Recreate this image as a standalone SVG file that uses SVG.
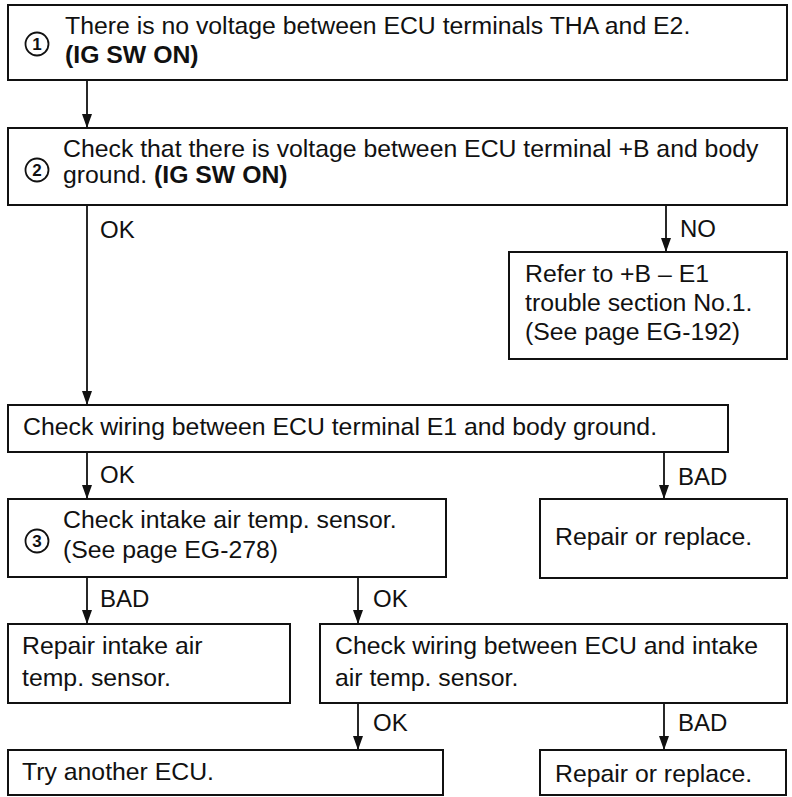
<svg xmlns="http://www.w3.org/2000/svg" width="792" height="797" viewBox="0 0 792 797">
<style>
.box{fill:#fff;stroke:#111;stroke-width:2}
.t{font-family:"Liberation Sans",Arial,sans-serif;font-size:24.8px;fill:#111}
.b{font-weight:bold}
.lbl{font-family:"Liberation Sans",Arial,sans-serif;font-size:24px;fill:#111}
.num{font-family:"Liberation Sans",Arial,sans-serif;font-size:17px;font-weight:bold;fill:#111;text-anchor:middle}
.circ{fill:none;stroke:#111;stroke-width:1.8}
.con{stroke:#111;stroke-width:1.8;fill:none;marker-end:url(#ah)}
</style>
<defs>
<marker id="ah" viewBox="0 0 14 10" refX="14" refY="5" markerWidth="14" markerHeight="10" markerUnits="userSpaceOnUse" orient="auto">
<path d="M0,0 L14,5 L0,10 Z" fill="#111"/>
</marker>
</defs>
<rect width="792" height="797" fill="#fff"/>
<g id="connectors">
<line class="con" x1="87" y1="80" x2="87" y2="128"/>
<line class="con" x1="87" y1="205" x2="87" y2="405"/>
<line class="con" x1="666" y1="205" x2="666" y2="252"/>
<line class="con" x1="87" y1="452" x2="87" y2="499"/>
<line class="con" x1="664" y1="452" x2="664" y2="499"/>
<line class="con" x1="87" y1="577" x2="87" y2="624"/>
<line class="con" x1="358" y1="577" x2="358" y2="624"/>
<line class="con" x1="358" y1="703" x2="358" y2="750"/>
<line class="con" x1="664" y1="703" x2="664" y2="750"/>
<text class="lbl" x="100" y="238">OK</text>
<text class="lbl" x="680" y="237">NO</text>
<text class="lbl" x="100" y="483">OK</text>
<text class="lbl" x="678" y="485">BAD</text>
<text class="lbl" x="100" y="607">BAD</text>
<text class="lbl" x="373" y="607">OK</text>
<text class="lbl" x="373" y="731">OK</text>
<text class="lbl" x="678" y="731">BAD</text>
</g>
<g id="step1">
<rect class="box" x="8" y="5" width="779" height="75"/>
<circle class="circ" cx="37" cy="44" r="11.5"/>
<text class="num" x="37" y="50">1</text>
<text class="t" x="65" y="34">There is no voltage between ECU terminals THA and E2.</text>
<text class="t b" x="65" y="63">(IG SW ON)</text>
</g>
<g id="step2">
<rect class="box" x="8" y="128" width="779" height="77"/>
<circle class="circ" cx="37" cy="170" r="11.5"/>
<text class="num" x="37" y="176">2</text>
<text class="t" x="63" y="157">Check that there is voltage between ECU terminal +B and body</text>
<text class="t" x="63" y="183">ground. <tspan class="b">(IG SW ON)</tspan></text>
</g>
<g id="refer">
<rect class="box" x="509" y="252" width="278" height="107"/>
<text class="t" x="525" y="282">Refer to +B – E1</text>
<text class="t" x="525" y="311">trouble section No.1.</text>
<text class="t" x="525" y="340">(See page EG-192)</text>
</g>
<g id="checkE1">
<rect class="box" x="8" y="405" width="720" height="47"/>
<text class="t" x="23" y="435">Check wiring between ECU terminal E1 and body ground.</text>
</g>
<g id="step3">
<rect class="box" x="8" y="499" width="438" height="78"/>
<circle class="circ" cx="37" cy="541" r="11.5"/>
<text class="num" x="37" y="547">3</text>
<text class="t" x="63" y="528">Check intake air temp. sensor.</text>
<text class="t" x="63" y="558">(See page EG-278)</text>
</g>
<g id="repair1">
<rect class="box" x="540" y="499" width="247" height="79"/>
<text class="t" x="555" y="545">Repair or replace.</text>
</g>
<g id="repairSensor">
<rect class="box" x="8" y="624" width="282" height="79"/>
<text class="t" x="22" y="654">Repair intake air</text>
<text class="t" x="22" y="686">temp. sensor.</text>
</g>
<g id="checkWiring">
<rect class="box" x="320" y="624" width="467" height="79"/>
<text class="t" x="335" y="654">Check wiring between ECU and intake</text>
<text class="t" x="335" y="686">air temp. sensor.</text>
</g>
<g id="tryECU">
<rect class="box" x="8" y="750" width="435" height="45"/>
<text class="t" x="22" y="780">Try another ECU.</text>
</g>
<g id="repair2">
<rect class="box" x="540" y="750" width="246" height="45"/>
<text class="t" x="555" y="782">Repair or replace.</text>
</g>
</svg>
